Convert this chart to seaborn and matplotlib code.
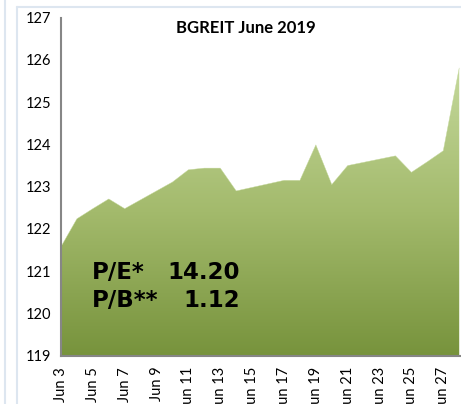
import numpy as np
import pandas as pd
import matplotlib
matplotlib.use("Agg")
import matplotlib.pyplot as plt
import seaborn as sns
from matplotlib.colors import LinearSegmentedColormap
from matplotlib.lines import Line2D

# BGREIT index, trading days of June 2019
days = [3, 4, 5, 6, 7, 10, 11, 12, 13, 14, 17, 18, 19, 20, 21, 24, 25, 26, 27, 28]
values = [121.58, 122.24, 122.48, 122.71, 122.48, 123.11, 123.40, 123.44, 123.44, 122.90,
          123.15, 123.15, 123.99, 123.05, 123.50, 123.73, 123.34, 123.59, 123.85, 125.81]
tick_days = list(range(3, 28, 2))
tick_labels = ["Jun %d" % d for d in tick_days]
title = "BGREIT June 2019"
pe_label, pe_value = "P/E*", "14.20"
pb_label, pb_value = "P/B**", "1.12"

df = pd.DataFrame({"day": days, "value": values})

sns.set_style("white")
plt.rcParams["font.family"] = ["Lato", "DejaVu Sans"]
plt.rcParams["text.color"] = "black"
plt.rcParams["xtick.color"] = "black"
plt.rcParams["ytick.color"] = "black"

fig = plt.figure(figsize=(4.61, 4.04), dpi=100)
ax = fig.add_axes([61 / 461, 1 - 355.7 / 404, 399 / 461, 338 / 404])

# gradient filled area
poly = ax.fill_between(df["day"], df["value"], 119, color="none", lw=0)
cmap = LinearSegmentedColormap.from_list("grn", ["#77933c", "#a3ba6c", "#c4d89b"])
grad = np.linspace(0, 1, 256).reshape(-1, 1)
img = ax.imshow(grad, cmap=cmap, origin="lower", aspect="auto",
                extent=[3, 28.2, 119, max(values)], zorder=1)
img.set_clip_path(poly.get_paths()[0], transform=ax.transData)
sns.lineplot(data=df, x="day", y="value", ax=ax, color="#c4d89b", lw=0.3, zorder=2)

ax.set_xlim(3, 28.05)
ax.set_ylim(119, 127)
ax.set_yticks(range(119, 128))
ax.set_xticks(tick_days)
ax.set_xticklabels(tick_labels, rotation=90)
ax.set_xlabel("")
ax.set_ylabel("")
ax.tick_params(axis="both", length=5, width=1.3, color="#868686", labelsize=10.5,
               labelcolor="black", direction="out", pad=2)
ax.tick_params(axis="x", pad=3)
for s in ["top", "right"]:
    ax.spines[s].set_visible(False)
for s in ["left", "bottom"]:
    ax.spines[s].set_color("#868686")
    ax.spines[s].set_linewidth(1.5)

ax.text(0.4637, 0.955, title, transform=ax.transAxes, ha="center", va="baseline",
        fontsize=12, fontweight="bold", color="black")
kw = dict(transform=ax.transAxes, va="baseline", fontsize=16.5, fontweight="bold",
          family="DejaVu Sans", color="black")
ax.text(0.0777, 0.227, pe_label, ha="left", **kw)
ax.text(0.4486, 0.227, pe_value, ha="right", **kw)
ax.text(0.0777, 0.144, pb_label, ha="left", **kw)
ax.text(0.4486, 0.144, pb_value, ha="right", **kw)

# light chart frame lines
fc = "#dde6f0"
fig.add_artist(Line2D([17 / 461, 17 / 461], [0, 1 - 7 / 404], color=fc, lw=1.5))
fig.add_artist(Line2D([17 / 461, 1], [1 - 7 / 404, 1 - 7 / 404], color=fc, lw=1.5))
fig.add_artist(Line2D([5 / 461, 5 / 461], [0, 1], color=fc, lw=1.5))

fig.savefig("out.png", dpi=100)
